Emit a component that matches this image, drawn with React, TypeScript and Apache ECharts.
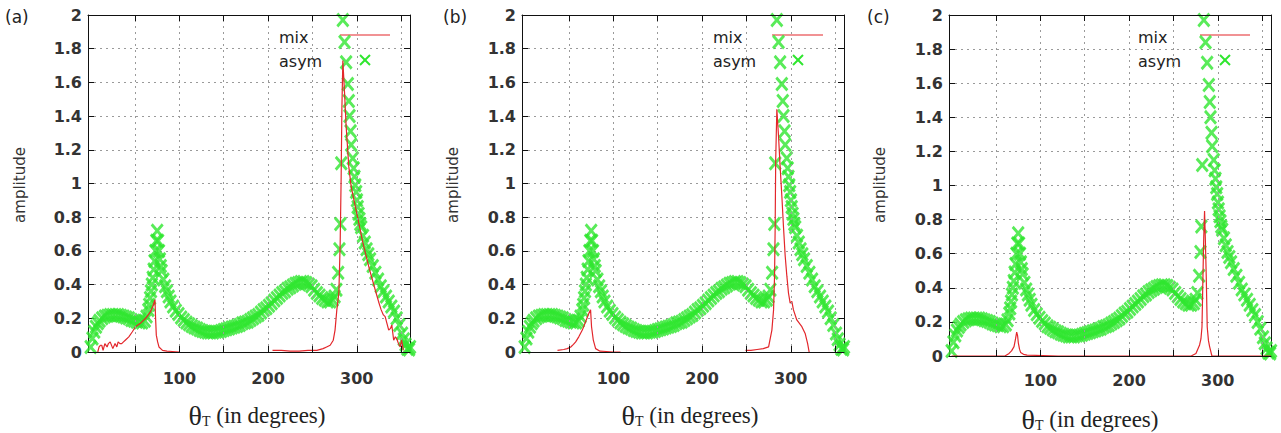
import React, { useEffect, useRef } from "react";
import * as echarts from "echarts";

// ---------- data ----------
const asymTheta = [
  0, 2, 4, 6, 8, 10, 13, 16, 19, 22, 25, 28, 31, 34, 37, 40, 43, 46, 49, 52, 55, 58, 61, 63, 65, 66, 67, 68, 69, 70,
  71, 72, 73, 74, 75, 76, 77, 78, 79, 80, 82, 84, 86, 88, 90, 93, 96, 99, 102, 105, 108, 111, 114, 117, 120, 123, 126,
  129, 132, 135, 138, 141, 144, 147, 150, 153, 156, 159, 162, 165, 168, 171, 174, 177, 180, 183, 186, 189, 192, 195,
  198, 201, 204, 207, 210, 213, 216, 219, 222, 225, 228, 231, 234, 237, 240, 243, 246, 249, 252, 255, 258, 261, 264,
  267, 270, 273, 275, 277, 279, 280.5, 281.5, 282.5, 284.3, 286.2, 288, 289.9, 291, 291.8, 293, 293.7, 295.5, 296.5,
  297.4, 298.3, 299.3, 300.2, 301, 302, 303, 304, 305, 307, 309, 311, 313, 315, 318, 321, 324, 327, 330, 333, 336, 339,
  342, 345, 348, 351, 353, 355, 357, 359, 360,
];
const asymAmp = [
  0.03, 0.08, 0.12, 0.15, 0.17, 0.185, 0.2, 0.21, 0.215, 0.22, 0.22, 0.22, 0.22, 0.215, 0.21, 0.205, 0.2, 0.19, 0.185,
  0.18, 0.175, 0.175, 0.185, 0.21, 0.25, 0.28, 0.32, 0.36, 0.4, 0.44, 0.49, 0.54, 0.6, 0.66, 0.72, 0.66, 0.6, 0.55, 0.51,
  0.48, 0.43, 0.39, 0.36, 0.33, 0.3, 0.27, 0.245, 0.225, 0.205, 0.19, 0.175, 0.165, 0.155, 0.145, 0.14, 0.13, 0.125,
  0.12, 0.115, 0.115, 0.115, 0.12, 0.12, 0.125, 0.13, 0.135, 0.14, 0.145, 0.15, 0.155, 0.16, 0.17, 0.175, 0.18, 0.19,
  0.2, 0.21, 0.22, 0.235, 0.25, 0.26, 0.275, 0.29, 0.305, 0.32, 0.335, 0.35, 0.36, 0.375, 0.385, 0.395, 0.405, 0.41,
  0.415, 0.415, 0.41, 0.4, 0.39, 0.37, 0.35, 0.335, 0.32, 0.31, 0.3, 0.3, 0.31, 0.33, 0.37, 0.47, 0.61, 0.76, 1.12, 1.97,
  1.84, 1.72, 1.59, 1.49, 1.4, 1.31, 1.23, 1.15, 1.09, 1.04, 0.99, 0.95, 0.9, 0.86, 0.82, 0.79, 0.76, 0.74, 0.69, 0.65,
  0.61, 0.58, 0.55, 0.51, 0.47, 0.43, 0.39, 0.36, 0.33, 0.3, 0.27, 0.24, 0.2, 0.16, 0.11, 0.075, 0.045, 0.02, 0.015,
  0.03,
];

const mixATheta = [
  8, 9.5, 11, 12.5, 14, 16, 18.5, 20, 22, 25, 27.5, 29.5, 31, 33, 35, 37, 39, 43, 47, 50.5, 56, 62, 67.5, 70, 72.5, 73.2,
  74, 75.5, 77, 81, 86, 92, 100, 150, 205, 215, 225, 235, 245, 255, 262, 266, 270, 273.5, 275.5, 277.5, 279.8, 281.3,
  282.4, 283.2, 284.3, 286.2, 288, 291, 293.7, 299.3, 306.8, 314.3, 321.8, 324.5, 327.5, 330, 332, 334, 336, 338, 339.5,
  341.6, 343.5, 345, 347, 349, 350.5, 352.6,
];
const mixAAmp = [
  0, 0.03, 0.04, 0.04, 0.01, 0.05, 0.03, 0.05, 0.06, 0.02, 0.05, 0.03, 0.06, 0.05, 0.05, 0.06, 0.07, 0.09, 0.12, 0.15,
  0.17, 0.2, 0.24, 0.27, 0.31, 0.2, 0.1, 0.06, 0.03, 0.01, 0.005, 0.003, 0, null, 0.01, 0.01, 0.005, 0.005, 0.01, 0.01,
  0.02, 0.03, 0.04, 0.07, 0.13, 0.25, 0.35, 0.65, 1.04, 1.44, 1.73, 1.54, 1.34, 1.1, 0.98, 0.84, 0.65, 0.49, 0.35, 0.3,
  0.25, 0.22, 0.21, 0.17, 0.13, 0.14, 0.16, 0.07, 0.09, 0.08, 0.05, 0.03, 0.07, 0.01,
];

const mixBTheta = [
  37, 44, 48, 52, 55, 57.5, 61, 65, 68.7, 72.4, 74.3, 75.4, 77.4, 80, 85, 92, 100, 108, 180, 249, 255, 262, 269, 275,
  278.7, 280.6, 281.7, 282.4, 283, 284.3, 286.2, 288, 290, 291.8, 293.7, 295.6, 297.4, 299.3, 301.2, 303, 306.8, 312.5,
  316.2, 319, 320.7,
];
const mixBAmp = [
  0.01, 0.015, 0.02, 0.03, 0.045, 0.06, 0.09, 0.13, 0.18, 0.23, 0.25, 0.15, 0.07, 0.02, 0.005, 0.003, 0, 0, null, 0.01,
  0.01, 0.015, 0.02, 0.03, 0.13, 0.25, 0.45, 0.74, 1.14, 1.44, 1.28, 1.1, 0.92, 0.74, 0.57, 0.45, 0.35, 0.29, 0.3, 0.25,
  0.19, 0.15, 0.11, 0.05, 0,
];

const mixCTheta = [
  0, 30, 60, 64.7, 67.5, 70.3, 72, 73.3, 74.3, 75.2, 76.5, 77.8, 81, 85, 120, 180, 240, 270, 275.4, 279.5, 281, 282.2,
  283.3, 284.2, 285.1, 286, 287, 288.1, 289.5, 290.8, 293.4, 320, 360,
];
const mixCAmp = [
  0, 0, 0, 0.015, 0.03, 0.055, 0.1, 0.14, 0.12, 0.075, 0.04, 0.02, 0.01, 0.005, 0, 0, 0, 0, 0.015, 0.065, 0.1, 0.17,
  0.47, 0.7, 0.85, 0.68, 0.47, 0.17, 0.09, 0.055, 0, 0, 0,
];

const xTickValues = [50, 100, 150, 200, 250, 300, 350];
const xLabelValues = [100, 200, 300];
const panelLabels = ["(a)", "(b)", "(c)"];
const seriesNames = ["mix", "asym"];

// ---------- layout / style ----------
const X_MIN = -3;
const X_MAX = 360;
const RED = "#e3262b";
const GREEN = "#2fe62f";
const GRID_COLOR = "#9a9a9a";
const AXIS_COLOR = "#111";
const TEXT_COLOR = "#333";
const SANS = "DejaVu Sans";
const SERIF = "Liberation Serif";
const XSYM =
  "path://M0,1.5L1.5,0L5,3.5L8.5,0L10,1.5L6.5,5L10,8.5L8.5,10L5,6.5L1.5,10L0,8.5L3.5,5Z";

const layouts = [
  { left: 88, top: 15, width: 322, height: 337, labelX: 5, ampX: 20, titleX: 257, titleY: 415, legX: 279, lineX: [340, 390], symX: 365, xLabMargin: 18 },
  { left: 522, top: 15, width: 322, height: 337, labelX: 443, ampX: 453, titleX: 690, titleY: 415, legX: 713, lineX: [772, 823], symX: 798, xLabMargin: 18 },
  { left: 949, top: 15, width: 322, height: 341, labelX: 867, ampX: 880, titleX: 1090, titleY: 419, legX: 1138, lineX: [1200, 1250], symX: 1225, xLabMargin: 16 },
];

const zip = (xs: number[], ys: (number | null)[]) => xs.map((x, i) => [x, ys[i]]);

function buildOption() {
  const mixData = [zip(mixATheta, mixAAmp), zip(mixBTheta, mixBAmp), zip(mixCTheta, mixCAmp)];
  const asymData = zip(asymTheta, asymAmp);
  const grids: any[] = [];
  const xAxes: any[] = [];
  const yAxes: any[] = [];
  const series: any[] = [];
  const graphics: any[] = [];

  const axisLine = { show: true, onZero: false, lineStyle: { color: AXIS_COLOR, width: 1 } };
  const labelStyle = { fontSize: 16, fontFamily: SANS, color: TEXT_COLOR, fontWeight: "bold" };

  layouts.forEach((L, i) => {
    grids.push({ left: L.left, top: L.top, width: L.width, height: L.height });
    xAxes.push({
      type: "value", gridIndex: i, min: X_MIN, max: X_MAX, position: "bottom", z: 5,
      axisLine,
      axisTick: { show: true, inside: true, length: 6, customValues: xTickValues, lineStyle: { color: AXIS_COLOR } },
      axisLabel: { show: true, customValues: xLabelValues, margin: L.xLabMargin, ...labelStyle },
      splitLine: { show: false },
    });
    xAxes.push({
      type: "value", gridIndex: i, min: X_MIN, max: X_MAX, position: "top", z: 5,
      axisLine,
      axisTick: { show: true, inside: true, length: 6, customValues: xTickValues, lineStyle: { color: AXIS_COLOR } },
      axisLabel: { show: false },
      splitLine: { show: false },
    });
    yAxes.push({
      type: "value", gridIndex: i, min: 0, max: 2, interval: 0.2, position: "left",
      axisLine,
      axisTick: { show: true, inside: true, length: 6, lineStyle: { color: AXIS_COLOR } },
      axisLabel: { show: true, margin: 6, ...labelStyle },
      splitLine: { show: true, lineStyle: { color: GRID_COLOR, type: [2, 4], width: 1 } },
    });
    yAxes.push({
      type: "value", gridIndex: i, min: 0, max: 2, interval: 0.2, position: "right",
      axisLine,
      axisTick: { show: true, inside: true, length: 6, lineStyle: { color: AXIS_COLOR } },
      axisLabel: { show: false },
      splitLine: { show: false },
    });

    series.push({
      type: "line", xAxisIndex: 2 * i, yAxisIndex: 2 * i, data: [], z: 1, silent: true,
      markLine: {
        silent: true, symbol: ["none", "none"], label: { show: false },
        lineStyle: { color: GRID_COLOR, type: [2, 4], width: 1 },
        data: xTickValues.map((v) => ({ xAxis: v })),
      },
    });
    series.push({
      type: "scatter", name: seriesNames[1], xAxisIndex: 2 * i, yAxisIndex: 2 * i,
      data: asymData, symbol: XSYM, symbolSize: [13, 15],
      itemStyle: { color: GREEN }, z: 2, silent: true,
    });
    series.push({
      type: "line", name: seriesNames[0], xAxisIndex: 2 * i, yAxisIndex: 2 * i,
      data: mixData[i], showSymbol: false, connectNulls: false,
      lineStyle: { color: RED, width: 1.2 }, z: 3, silent: true,
    });

    // panel label
    graphics.push({
      type: "text", x: L.labelX, y: 17,
      style: { text: panelLabels[i], fontSize: 17, fontFamily: SANS, fill: "#222", verticalAlign: "middle", align: "left" },
    });
    // y axis title
    graphics.push({
      type: "text", x: L.ampX, y: 185, rotation: Math.PI / 2,
      style: { text: "amplitude", fontSize: 15, fontFamily: SANS, fill: TEXT_COLOR, align: "center", verticalAlign: "middle" },
    });
    // x axis title
    graphics.push({
      type: "text", x: L.titleX, y: L.titleY,
      style: {
        text: "{t|θ}{s|T}{r| (in degrees)}", align: "center", verticalAlign: "middle",
        rich: {
          t: { fontFamily: SERIF, fontSize: 28, fill: "#222" },
          s: { fontFamily: SERIF, fontSize: 14, fill: "#222", padding: [12, 0, 0, 0] },
          r: { fontFamily: SERIF, fontSize: 23, fill: "#222" },
        },
      },
    });
    // legend
    graphics.push({
      type: "text", x: L.legX, y: 37,
      style: { text: seriesNames[0], fontSize: 16, fontFamily: SANS, fill: "#222", verticalAlign: "middle", align: "left" },
    });
    graphics.push({
      type: "text", x: L.legX, y: 61,
      style: { text: seriesNames[1], fontSize: 16, fontFamily: SANS, fill: "#222", verticalAlign: "middle", align: "left" },
    });
    graphics.push({
      type: "line", shape: { x1: L.lineX[0], y1: 35, x2: L.lineX[1], y2: 35 },
      style: { stroke: RED, lineWidth: 1.2 },
    });
    graphics.push({
      type: "line", shape: { x1: L.symX - 5, y1: 55, x2: L.symX + 5, y2: 65 },
      style: { stroke: GREEN, lineWidth: 2 },
    });
    graphics.push({
      type: "line", shape: { x1: L.symX + 5, y1: 55, x2: L.symX - 5, y2: 65 },
      style: { stroke: GREEN, lineWidth: 2 },
    });
  });

  return {
    animation: false,
    backgroundColor: "#ffffff",
    grid: grids,
    xAxis: xAxes,
    yAxis: yAxes,
    series,
    graphic: graphics,
  };
}

export default function App() {
  const ref = useRef<HTMLDivElement | null>(null);
  useEffect(() => {
    if (!ref.current) return;
    const chart = echarts.init(ref.current, undefined, { renderer: "svg" });
    chart.setOption(buildOption() as any);
    return () => chart.dispose();
  }, []);
  return (
    <div
      ref={ref}
      style={{ position: "absolute", left: 0, top: 0, width: 1281, height: 433, background: "#fff" }}
    />
  );
}
